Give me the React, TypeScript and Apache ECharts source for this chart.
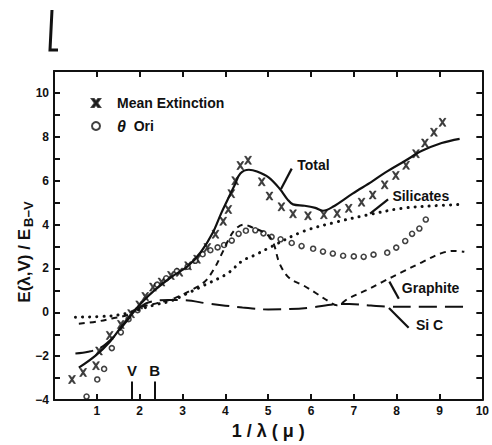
import React, { useEffect, useRef } from "react";
import * as echarts from "echarts";

// Mean extinction (x markers)
const meanX = [0.42, 0.68, 0.98, 1.05, 1.3, 1.56, 1.8, 1.99, 2.13, 2.31, 2.51, 2.73, 2.93, 3.13, 3.34, 3.58, 3.77, 3.95, 4.07, 4.14, 4.23, 4.35, 4.53, 4.85, 5.03, 5.31, 5.58, 5.93, 6.3, 6.61, 6.88, 7.18, 7.44, 7.72, 7.98, 8.22, 8.45, 8.66, 8.87, 9.07];
const meanY = [-3.06, -2.74, -2.43, -1.76, -1.05, -0.55, -0.06, 0.34, 0.72, 1.15, 1.38, 1.68, 1.83, 2.12, 2.42, 2.95, 3.56, 4.15, 4.69, 5.41, 6.0, 6.69, 6.93, 5.95, 5.3, 4.81, 4.49, 4.4, 4.45, 4.51, 4.74, 5.02, 5.35, 5.81, 6.24, 6.7, 7.23, 7.72, 8.21, 8.66];

// theta Ori (open circles)
const thetaX = [0.76, 1.01, 1.17, 1.35, 1.56, 1.74, 1.95, 2.41, 2.62, 2.87, 3.12, 3.3, 3.47, 3.65, 3.82, 3.97, 4.15, 4.31, 4.48, 4.7, 4.89, 5.08, 5.29, 5.55, 5.78, 6.05, 6.28, 6.51, 6.75, 7.0, 7.23, 7.46, 7.78, 7.99, 8.2, 8.36, 8.53, 8.68];
const thetaY = [-3.84, -3.06, -2.58, -1.63, -0.91, -0.31, 0.1, 1.26, 1.55, 1.88, 2.08, 2.35, 2.65, 2.83, 2.96, 3.07, 3.27, 3.58, 3.72, 3.74, 3.6, 3.44, 3.33, 3.16, 3.02, 2.9, 2.77, 2.68, 2.58, 2.55, 2.53, 2.63, 2.72, 2.95, 3.25, 3.58, 3.82, 4.23];

// Total (solid)
const totalX = [0.58, 0.97, 1.3, 1.58, 1.81, 2.04, 2.35, 2.73, 3.12, 3.43, 3.7, 3.9, 4.05, 4.23, 4.35, 4.55, 4.74, 5.01, 5.27, 5.45, 5.58, 5.85, 6.1, 6.28, 6.51, 6.97, 7.43, 7.74, 8.2, 8.59, 9.05, 9.47];
const totalY = [-2.52, -1.97, -1.35, -0.63, -0.1, 0.43, 1.01, 1.6, 2.1, 2.75, 3.6, 4.5, 5.12, 5.85, 6.33, 6.5, 6.42, 6.15, 5.63, 5.15, 4.92, 4.86, 4.76, 4.63, 4.81, 5.41, 5.97, 6.38, 6.91, 7.36, 7.72, 7.91];

// Silicates (dotted)
const silX = [0.5, 1.28, 1.66, 1.97, 2.35, 2.73, 3.1, 3.5, 4.05, 4.4, 4.7, 5.04, 5.82, 6.58, 7.35, 8.12, 8.89, 9.54];
const silY = [-0.22, -0.17, -0.06, 0.12, 0.34, 0.52, 0.85, 1.23, 1.77, 2.35, 2.62, 2.96, 3.69, 4.11, 4.45, 4.74, 4.86, 4.92];

// Graphite (short dashes)
const grX = [0.58, 1.0, 1.35, 1.74, 1.97, 2.43, 2.82, 3.19, 3.51, 3.74, 3.93, 4.08, 4.23, 4.43, 4.62, 4.97, 5.12, 5.27, 5.5, 5.82, 6.12, 6.42, 6.6, 6.88, 7.28, 7.66, 8.12, 8.59, 9.05, 9.35, 9.58];
const grY = [-0.52, -0.42, -0.28, -0.1, 0.2, 0.43, 0.65, 1.0, 1.38, 1.99, 2.72, 3.33, 3.78, 4.0, 3.88, 3.56, 3.17, 2.21, 1.55, 1.23, 0.87, 0.49, 0.32, 0.64, 1.0, 1.38, 1.83, 2.28, 2.7, 2.8, 2.76];

// SiC (long dashes)
const sicX = [0.5, 0.8, 1.1, 1.4, 1.7, 1.9, 2.2, 2.7, 3.05, 3.6, 4.4, 5.0, 5.5, 6.0, 6.6, 6.9, 7.4, 7.8, 8.5, 9.6];
const sicY = [-1.88, -1.8, -1.6, -1.1, -0.4, 0.05, 0.45, 0.56, 0.55, 0.4, 0.22, 0.13, 0.15, 0.22, 0.37, 0.38, 0.31, 0.26, 0.25, 0.25];

// Photometric band marks
const bandNames = ["V", "B"];
const bandX = [1.82, 2.35];

// Tick labels
const xTickLabels = ["1", "2", "3", "4", "5", "6", "7", "8", "9", "10"];
const yTickLabels = ["−4", "−2", "0", "2", "4", "6", "8", "10"];

// Curve annotation labels: text, text anchor [x,y], leader from, leader to (data coords)
const annoText = ["Total", "Silicates", "Graphite", "Si C"];
const annoAt = [[5.68, 6.72], [7.9, 5.3], [8.12, 1.1], [8.45, -0.57]];
const annoFrom = [[5.55, 6.55], [7.8, 5.15], [7.83, 1.4], [7.82, 0.2]];
const annoTo = [[5.3, 5.62], [7.38, 4.5], [8.05, 0.62], [8.28, -0.7]];

const INK = "#111";
const FONT = "Liberation Sans";

const zip = (xs: number[], ys: number[]) => xs.map((x, i) => [x, ys[i]]);

const crossPath =
  "path://M0,0 L2.4,0 L5,3.2 L7.6,0 L10,0 L6.4,5 L10,10 L7.6,10 L5,6.8 L2.4,10 L0,10 L3.6,5 Z";

export default function App() {
  const ref = useRef<HTMLDivElement>(null);
  useEffect(() => {
    const chart = echarts.init(ref.current!, null, { renderer: "svg" });
    const axisCommon = {
      min: 0,
      max: 10,
      interval: 1,
      axisLine: { show: true, onZero: false, lineStyle: { color: INK, width: 2 } },
      axisTick: { show: true, inside: true, length: 6, lineStyle: { color: INK, width: 2 } },
      splitLine: { show: false },
    };
    const yCommon = {
      min: -4,
      max: 11,
      interval: 1,
      axisLine: { show: true, onZero: false, lineStyle: { color: INK, width: 2 } },
      axisTick: { show: true, inside: true, length: 6, lineStyle: { color: INK, width: 2 } },
      splitLine: { show: false },
    };
    const option: any = {
      animation: false,
      backgroundColor: "#fff",
      textStyle: { fontFamily: FONT },
      grid: { left: 54, right: 4, top: 71, bottom: 38, containLabel: false },
      legend: {
        left: 86,
        top: 91,
        orient: "vertical",
        itemGap: 8,
        itemWidth: 8,
        itemHeight: 8,
        data: ["Mean Extinction", "θ Ori"],
        textStyle: {
          color: INK,
          fontSize: 14,
          fontWeight: "bold",
          fontFamily: FONT,
          padding: [0, 0, 0, 12],
          rich: {
            i: { fontStyle: "italic", fontSize: 16, fontWeight: "bold", fontFamily: FONT, color: INK },
          },
        },
        formatter: (n: string) => (n === "θ Ori" ? "{i|θ}  Ori" : n),
      },
      xAxis: [
        {
          ...axisCommon,
          type: "value",
          position: "bottom",
          name: "1 / λ ( μ )",
          nameLocation: "middle",
          nameGap: 18,
          nameTextStyle: { color: INK, fontSize: 18, fontWeight: "bold", fontFamily: FONT },
          axisLabel: {
            color: INK,
            fontSize: 12,
            fontWeight: "bold",
            fontFamily: FONT,
            margin: 5,
            formatter: (v: number) => (v >= 1 ? xTickLabels[v - 1] : ""),
          },
        },
        { ...axisCommon, type: "value", position: "top", axisLabel: { show: false } },
      ],
      yAxis: [
        {
          ...yCommon,
          type: "value",
          position: "left",
          axisLabel: {
            color: INK,
            fontSize: 12,
            fontWeight: "bold",
            fontFamily: FONT,
            margin: 5,
            formatter: (v: number) => (v % 2 === 0 && v <= 10 ? yTickLabels[(v + 4) / 2] : ""),
          },
        },
        { ...yCommon, type: "value", position: "right", axisLabel: { show: false } },
      ],
      series: [
        {
          name: "Total",
          type: "line",
          data: zip(totalX, totalY),
          smooth: 0.35,
          showSymbol: false,
          lineStyle: { color: INK, width: 2.2 },
        },
        {
          name: "Silicates",
          type: "line",
          data: zip(silX, silY),
          smooth: 0.35,
          showSymbol: false,
          lineStyle: { color: INK, width: 3, type: [0.1, 7], cap: "round" },
        },
        {
          name: "Graphite",
          type: "line",
          data: zip(grX, grY),
          smooth: 0.35,
          showSymbol: false,
          lineStyle: { color: INK, width: 2, type: [6, 5] },
        },
        {
          name: "Si C",
          type: "line",
          data: zip(sicX, sicY),
          smooth: 0.35,
          showSymbol: false,
          lineStyle: { color: INK, width: 2, type: [18, 8] },
          markLine: {
            silent: true,
            symbol: "none",
            lineStyle: { color: INK, width: 2, type: "solid" },
            label: {
              show: true,
              position: "end",
              formatter: "{b}",
              color: INK,
              fontSize: 15,
              fontWeight: "bold",
              fontFamily: FONT,
              distance: 3,
            },
            data: bandNames.map((n, i) => [
              { name: n, coord: [bandX[i], -4] },
              { coord: [bandX[i], -3.15] },
            ]),
          },
        },
        {
          name: "Mean Extinction",
          type: "scatter",
          data: zip(meanX, meanY),
          symbol: crossPath,
          symbolSize: [7, 8],
          itemStyle: { color: INK, borderColor: INK, borderWidth: 0.6 },
        },
        {
          name: "θ Ori",
          type: "scatter",
          data: zip(thetaX, thetaY),
          symbol: "circle",
          symbolSize: 5,
          itemStyle: { color: "#fff", borderColor: INK, borderWidth: 1.6 },
        },
      ],
    };
    chart.setOption(option);

    const toPx = (p: number[]) => chart.convertToPixel({ seriesIndex: 0 }, p) as number[];
    const graphics: any[] = [];
    annoText.forEach((t, i) => {
      const a = toPx(annoAt[i]);
      const f = toPx(annoFrom[i]);
      const to = toPx(annoTo[i]);
      graphics.push({
        type: "text",
        x: a[0],
        y: a[1],
        style: { text: t, fill: INK, font: `bold 14px "${FONT}"`, textAlign: "left", textVerticalAlign: "middle" },
      });
      graphics.push({
        type: "line",
        shape: { x1: f[0], y1: f[1], x2: to[0], y2: to[1] },
        style: { stroke: INK, lineWidth: 2.2 },
      });
    });
    // y axis title
    graphics.push({
      type: "text",
      x: 24,
      y: 252,
      rotation: Math.PI / 2,
      style: {
        text: "{a|E(λ,V) / E}{b|B−V}",
        textAlign: "center",
        textVerticalAlign: "middle",
        rich: {
          a: { fontSize: 17, fontWeight: "bold", fontFamily: FONT, fill: INK, color: INK },
          b: { fontSize: 13, fontWeight: "bold", fontFamily: FONT, fill: INK, color: INK, padding: [8, 0, 0, 2] },
        },
      },
    });
    // stray scan mark at top-left
    graphics.push({
      type: "polyline",
      shape: { points: [[52, 10], [50, 50], [58, 50]] },
      style: { stroke: INK, lineWidth: 3, fill: null },
    });
    chart.setOption({ graphic: graphics });
    return () => chart.dispose();
  }, []);
  return (
    <div
      ref={ref}
      style={{ position: "fixed", left: 0, top: 0, width: 492, height: 445, background: "#fff" }}
    />
  );
}
